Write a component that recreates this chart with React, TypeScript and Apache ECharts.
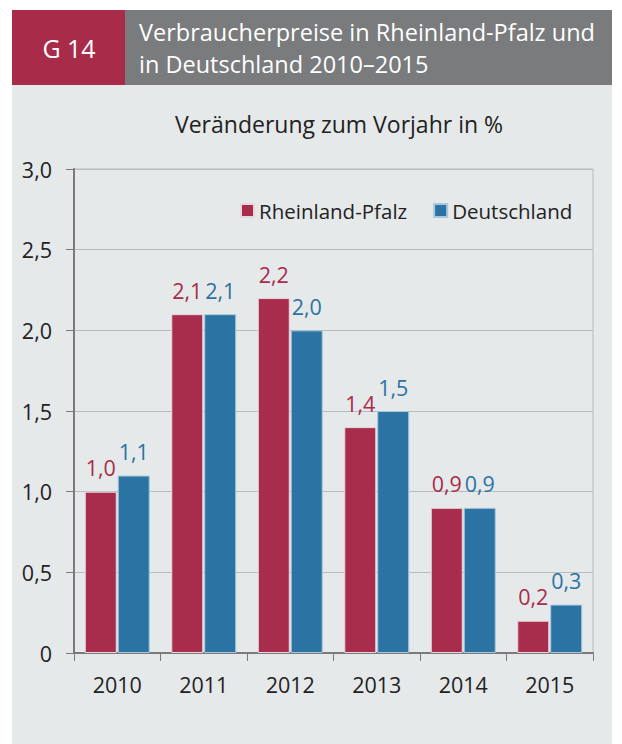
import React, { useEffect, useRef } from "react";
import * as echarts from "echarts";

const categories = ["2010", "2011", "2012", "2013", "2014", "2015"];
const rlp = [1.0, 2.1, 2.2, 1.4, 0.9, 0.2];
const de = [1.1, 2.1, 2.0, 1.5, 0.9, 0.3];
const seriesNames = ["Rheinland-Pfalz", "Deutschland"];
const headerTag = "G 14";
const headerTitle = "Verbraucherpreise in Rheinland-Pfalz und\nin Deutschland 2010–2015";
const subtitle = "Veränderung zum Vorjahr in %";

const RED = "#a82c4b";
const BLUE = "#2b73a2";
const FONT = "'Open Sans', 'Noto Sans', sans-serif";

const fmt = (v: number) => (v === 0 ? "0" : v.toFixed(1).replace(".", ","));

export default function App() {
  const ref = useRef<HTMLDivElement>(null);
  useEffect(() => {
    if (!ref.current) return;
    const chart = echarts.init(ref.current, undefined, { renderer: "svg" });
    chart.setOption({
      animation: false,
      backgroundColor: "#ffffff",
      textStyle: { fontFamily: FONT },
      graphic: [
        { type: "rect", z: -10, shape: { x: 12, y: 85, width: 600, height: 659 }, style: { fill: "#e6e9ea" } },
        { type: "rect", shape: { x: 12, y: 10, width: 113, height: 75 }, style: { fill: "#a82c4a" } },
        { type: "rect", shape: { x: 125, y: 10, width: 487, height: 75 }, style: { fill: "#7a7b7d" } },
        {
          type: "text",
          x: 69,
          y: 48,
          style: { text: headerTag, fill: "#ffffff", font: `500 25px ${FONT}`, align: "center", verticalAlign: "middle" },
        },
        {
          type: "text",
          x: 139,
          y: 48,
          style: {
            text: headerTitle,
            fill: "#ffffff",
            font: `500 23.5px ${FONT}`,
            lineHeight: 32,
            align: "left",
            verticalAlign: "middle",
          },
        },
        {
          type: "text",
          x: 339,
          y: 124,
          style: { text: subtitle, fill: "#222222", font: `23px ${FONT}`, align: "center", verticalAlign: "middle" },
        },
      ],
      legend: {
        data: seriesNames,
        left: 235,
        top: 195,
        icon: "rect",
        itemWidth: 13,
        itemHeight: 13,
        itemGap: 26,
        textStyle: { fontSize: 20.5, color: "#222222", fontFamily: FONT },
      },
      grid: {
        left: 74,
        right: 29,
        top: 169,
        bottom: 91,
        show: true,
        borderColor: "#b8bcbe",
        borderWidth: 1,
        backgroundColor: "transparent",
      },
      xAxis: {
        type: "category",
        data: categories,
        axisLine: { lineStyle: { color: "#7a7a7a", width: 2 } },
        axisTick: { show: true, length: 8, lineStyle: { color: "#7a7a7a", width: 1 } },
        axisLabel: { fontSize: 21.5, color: "#222222", margin: 20, fontFamily: FONT },
      },
      yAxis: {
        type: "value",
        min: 0,
        max: 3,
        interval: 0.5,
        axisLine: { show: true, lineStyle: { color: "#7a7a7a", width: 2 } },
        axisTick: { show: true, length: 8, lineStyle: { color: "#7a7a7a", width: 1 } },
        axisLabel: { fontSize: 21.5, color: "#222222", margin: 22, formatter: (v: number) => fmt(v), fontFamily: FONT },
        splitLine: { lineStyle: { color: "#b8bcbe", width: 1 } },
      },
      series: [
        {
          name: seriesNames[0],
          type: "bar",
          data: rlp,
          barWidth: 32,
          barGap: "3%",
          itemStyle: { color: RED, borderColor: "#e8d7dc", borderWidth: 1 },
          label: {
            show: true,
            position: "top",
            distance: 13,
            formatter: (p: any) => fmt(p.value),
            color: RED,
            fontSize: 21.5,
            fontFamily: FONT,
          },
        },
        {
          name: seriesNames[1],
          type: "bar",
          data: de,
          barWidth: 32,
          itemStyle: { color: BLUE, borderColor: "#a9c8dc", borderWidth: 1 },
          label: {
            show: true,
            position: "top",
            distance: 13,
            formatter: (p: any) => fmt(p.value),
            color: BLUE,
            fontSize: 21.5,
            fontFamily: FONT,
          },
        },
      ],
    });
    return () => chart.dispose();
  }, []);
  return <div ref={ref} style={{ position: "fixed", left: 0, top: 0, width: 622, height: 744 }} />;
}
